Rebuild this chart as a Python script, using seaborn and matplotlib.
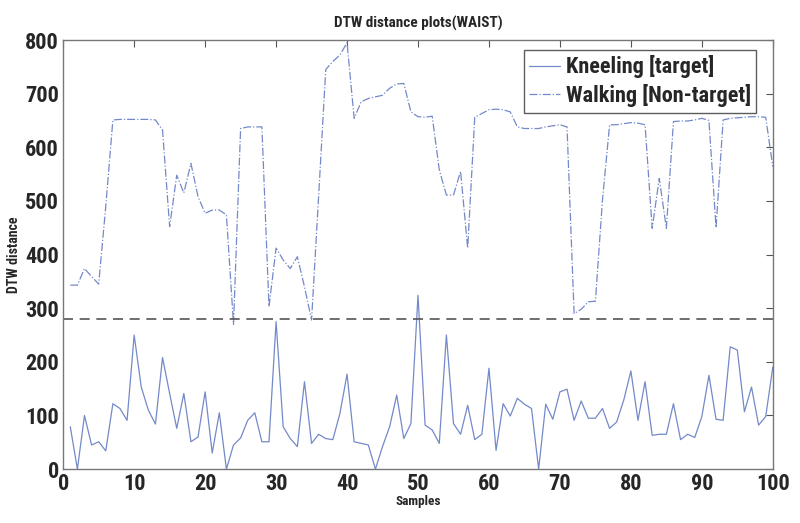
import numpy as np
import pandas as pd
import matplotlib
matplotlib.use("Agg")
import matplotlib.pyplot as plt
import seaborn as sns
from matplotlib import font_manager

samples = list(range(1, 101))
kneeling = [79, 0, 100, 45, 51, 34, 122, 113, 91, 250,
            153, 110, 84, 208, 141, 76, 141, 51, 60, 144,
            30, 105, 0, 45, 58, 91, 105, 51, 51, 275,
            79, 57, 42, 163, 48, 65, 57, 55, 104, 177,
            51, 48, 45, 0, 42, 79, 138, 57, 85, 324,
            82, 73, 48, 250, 85, 65, 119, 55, 65, 188,
            35, 122, 99, 132, 121, 113, 0, 121, 93, 144,
            149, 91, 127, 95, 95, 113, 76, 88, 129, 183,
            91, 163, 63, 65, 65, 122, 55, 65, 59, 98,
            175, 93, 91, 228, 222, 107, 153, 82, 98, 190]
walking = [343, 343, 374, 359, 345, 490, 651, 652, 652, 652,
           652, 652, 651, 632, 452, 548, 515, 570, 508, 477,
           483, 483, 474, 270, 635, 638, 638, 638, 303, 412,
           390, 374, 396, 340, 278, 510, 745, 760, 772, 795,
           654, 685, 691, 694, 697, 710, 718, 719, 666, 657,
           656, 658, 558, 511, 511, 555, 412, 656, 663, 670,
           671, 670, 666, 638, 635, 635, 635, 638, 640, 642,
           638, 290, 298, 312, 313, 502, 642, 642, 644, 646,
           645, 642, 449, 542, 449, 648, 649, 649, 651, 654,
           650, 450, 651, 654, 655, 656, 657, 657, 656, 564]
threshold = 280

df = pd.DataFrame({"Samples": samples, "Kneeling": kneeling, "Walking": walking})

sns.set_style("white")
# narrow font if there is one, else Liberation Sans
installed = {f.name for f in font_manager.fontManager.ttflist}
fam = next((n for n in ["Liberation Sans Narrow", "Arial Narrow", "Roboto Condensed"]
            if n in installed), "Liberation Sans")
plt.rcParams["font.family"] = [fam, "DejaVu Sans"]

fig = plt.figure(figsize=(8, 5.23), dpi=100)
ax = fig.add_axes([0.079, 0.103, 0.887, 0.8205])
line_col = "#7489c9"
sns.lineplot(data=df, x="Samples", y="Kneeling", ax=ax, color=line_col, lw=0.9,
             label="Kneeling [target]")
sns.lineplot(data=df, x="Samples", y="Walking", ax=ax, color=line_col, lw=0.9,
             linestyle="-.", label="Walking [Non-target]")
ax.axhline(threshold, color="#555555", lw=1.2, ls=(0, (6, 4)))

ax.set_xlim(0, 100)
ax.set_ylim(0, 800)
ax.set_xticks(range(0, 101, 10))
ax.set_yticks(range(0, 801, 100))
ax.tick_params(direction="in", length=5, width=0.8, color="#555555",
               top=True, right=True, labelsize=16, pad=3)
for lab in ax.get_xticklabels() + ax.get_yticklabels():
    lab.set_fontweight("bold")
for s in ax.spines.values():
    s.set_color("#777777")
    s.set_linewidth(1)

ax.set_title("DTW distance plots(WAIST)", fontsize=11, fontweight="bold", pad=9)
ax.set_xlabel("Samples", fontsize=9.5, fontweight="bold", labelpad=0)
ax.set_ylabel("DTW distance", fontsize=10, fontweight="bold", labelpad=3)

leg = ax.legend(loc="upper right", bbox_to_anchor=(0.977, 0.977), borderaxespad=0,
                fontsize=16, frameon=True, fancybox=False, handlelength=1.4,
                handletextpad=0.25, borderpad=0.25, labelspacing=0.25)
leg.get_frame().set_edgecolor("#333333")
leg.get_frame().set_linewidth(1)
for t in leg.get_texts():
    t.set_fontweight("bold")

fig.savefig("out.png", dpi=100)
